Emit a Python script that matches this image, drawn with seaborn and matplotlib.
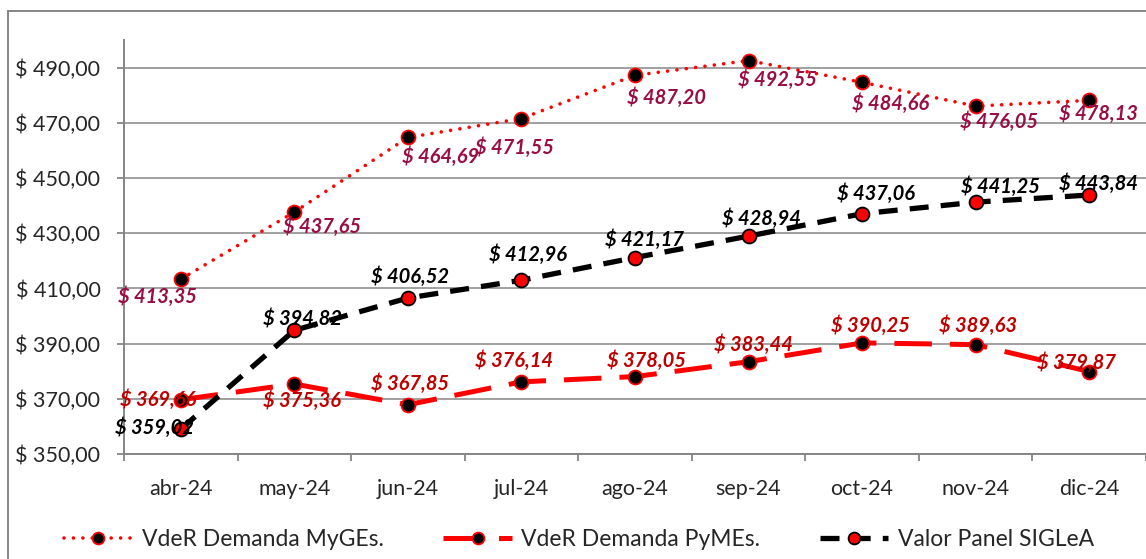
import matplotlib
matplotlib.use("Agg")
import matplotlib.pyplot as plt
import matplotlib.patches as mpatches
import seaborn as sns
import pandas as pd

months = ["abr-24", "may-24", "jun-24", "jul-24", "ago-24", "sep-24", "oct-24", "nov-24", "dic-24"]
myges = [413.35, 437.65, 464.69, 471.55, 487.20, 492.55, 484.66, 476.05, 478.13]
pymes = [369.66, 375.36, 367.85, 376.14, 378.05, 383.44, 390.25, 389.63, 379.87]
panel = [359.02, 394.82, 406.52, 412.96, 421.17, 428.94, 437.06, 441.25, 443.84]
names = ["VdeR Demanda MyGEs.", "VdeR Demanda PyMEs.", "Valor Panel SIGLeA"]
yticks = [350, 370, 390, 410, 430, 450, 470, 490]

# label offsets in pixels (dx, dy)
off_myges = [(-23, -18), (28, -15), (33, -19), (-7, -29), (31, -22), (29, -19), (28, -21), (23, -16), (9, -13)]
off_pymes = [(-23, 0), (8, -17), (2, 21), (-7, 21), (11, 16), (5, 17), (8, 17), (2, 19), (-13, 9)]
off_panel = [(-26, 1), (8, 12), (2, 21), (7, 26), (9, 18), (13, 17), (14, 20), (25, 15), (9, 11)]

sns.set_theme(style="white")
plt.rcParams["font.family"] = ["Lato", "DejaVu Sans"]

fig = plt.figure(figsize=(11.46, 5.59), dpi=100)
ax = fig.add_axes([124 / 1146, 1 - 454 / 559, 1 - 124 / 1146, (454 - 40) / 559])

df = pd.DataFrame({"mes": months, "myges": myges, "pymes": pymes, "panel": panel})

styles = {
    "myges": dict(color="#FF0000", lw=2.6, ls=(0, (0.01, 2.6)), cap="round", mfc="black", mec="#FF0000"),
    "pymes": dict(color="#FF0000", lw=3.6, ls=(0, (7.5, 3.6)), cap="butt", mfc="black", mec="#FF0000"),
    "panel": dict(color="black", lw=3.8, ls=(0, (3.6, 2.3)), cap="butt", mfc="#FF0000", mec="black"),
}
handles = []
for key, nm in zip(["myges", "pymes", "panel"], names):
    st = styles[key]
    before = len(ax.lines)
    sns.lineplot(data=df, x="mes", y=key, ax=ax, color=st["color"], linewidth=st["lw"],
                 marker="o", markersize=10, markerfacecolor=st["mfc"], markeredgecolor=st["mec"],
                 markeredgewidth=1.3, sort=False, label=nm, zorder=3)
    ln = ax.lines[before]
    ln.set_linestyle(st["ls"])
    ln.set_dash_capstyle(st["cap"])
    handles.append(ln)

lab_colors = {"myges": "#990F45", "pymes": "#C00000", "panel": "black"}
for key, vals, offs in [("myges", myges, off_myges), ("pymes", pymes, off_pymes), ("panel", panel, off_panel)]:
    for i, (v, (dx, dy)) in enumerate(zip(vals, offs)):
        txt = "$ " + f"{v:.2f}".replace(".", ",")
        ax.annotate(txt, (i, v), xytext=(dx, dy), textcoords="offset pixels",
                    ha="center", va="center", fontsize=14.5, fontweight="bold", fontstyle="italic",
                    color=lab_colors[key], zorder=5)

ax.set_xlim(-0.5, 8.5)
ax.set_ylim(350, 500)
ax.set_yticks(yticks)
ax.set_yticklabels(["$ " + f"{t:.2f}".replace(".", ",") for t in yticks], fontsize=15.5)
ax.set_xticks(range(len(months)))
ax.set_xticklabels(months, fontsize=15.5)
ax.set_xticks([i - 0.5 for i in range(len(months) + 1)], minor=True)
ax.tick_params(axis="x", which="major", length=0, pad=18)
ax.tick_params(axis="x", which="minor", length=5, color="#868686", width=1.3, direction="out", bottom=True)
ax.tick_params(axis="y", length=5, color="#868686", width=1.3, direction="out", left=True, pad=12)
ax.grid(axis="y", color="#A0A0A0", linewidth=1.4)
ax.set_axisbelow(True)
for s in ["top", "right"]:
    ax.spines[s].set_visible(False)
for s in ["left", "bottom"]:
    ax.spines[s].set_color("#868686")
    ax.spines[s].set_linewidth(1.4)
ax.set_xlabel("")
ax.set_ylabel("")
if ax.get_legend():
    ax.get_legend().remove()

leg = fig.legend(handles, names, loc="center", bbox_to_anchor=(0.505, 1 - 540 / 559), ncol=3, frameon=False,
                 fontsize=16.5, handlelength=3.0, columnspacing=2.6, handletextpad=0.4, markerscale=0.85)

rect = mpatches.Rectangle((8 / 1146, -0.1), 1.2, 1 - 11 / 559 + 0.1, transform=fig.transFigure,
                          fill=False, edgecolor="#868686", linewidth=1.4, zorder=0)
fig.patches.append(rect)

fig.savefig("out.png", dpi=100)
